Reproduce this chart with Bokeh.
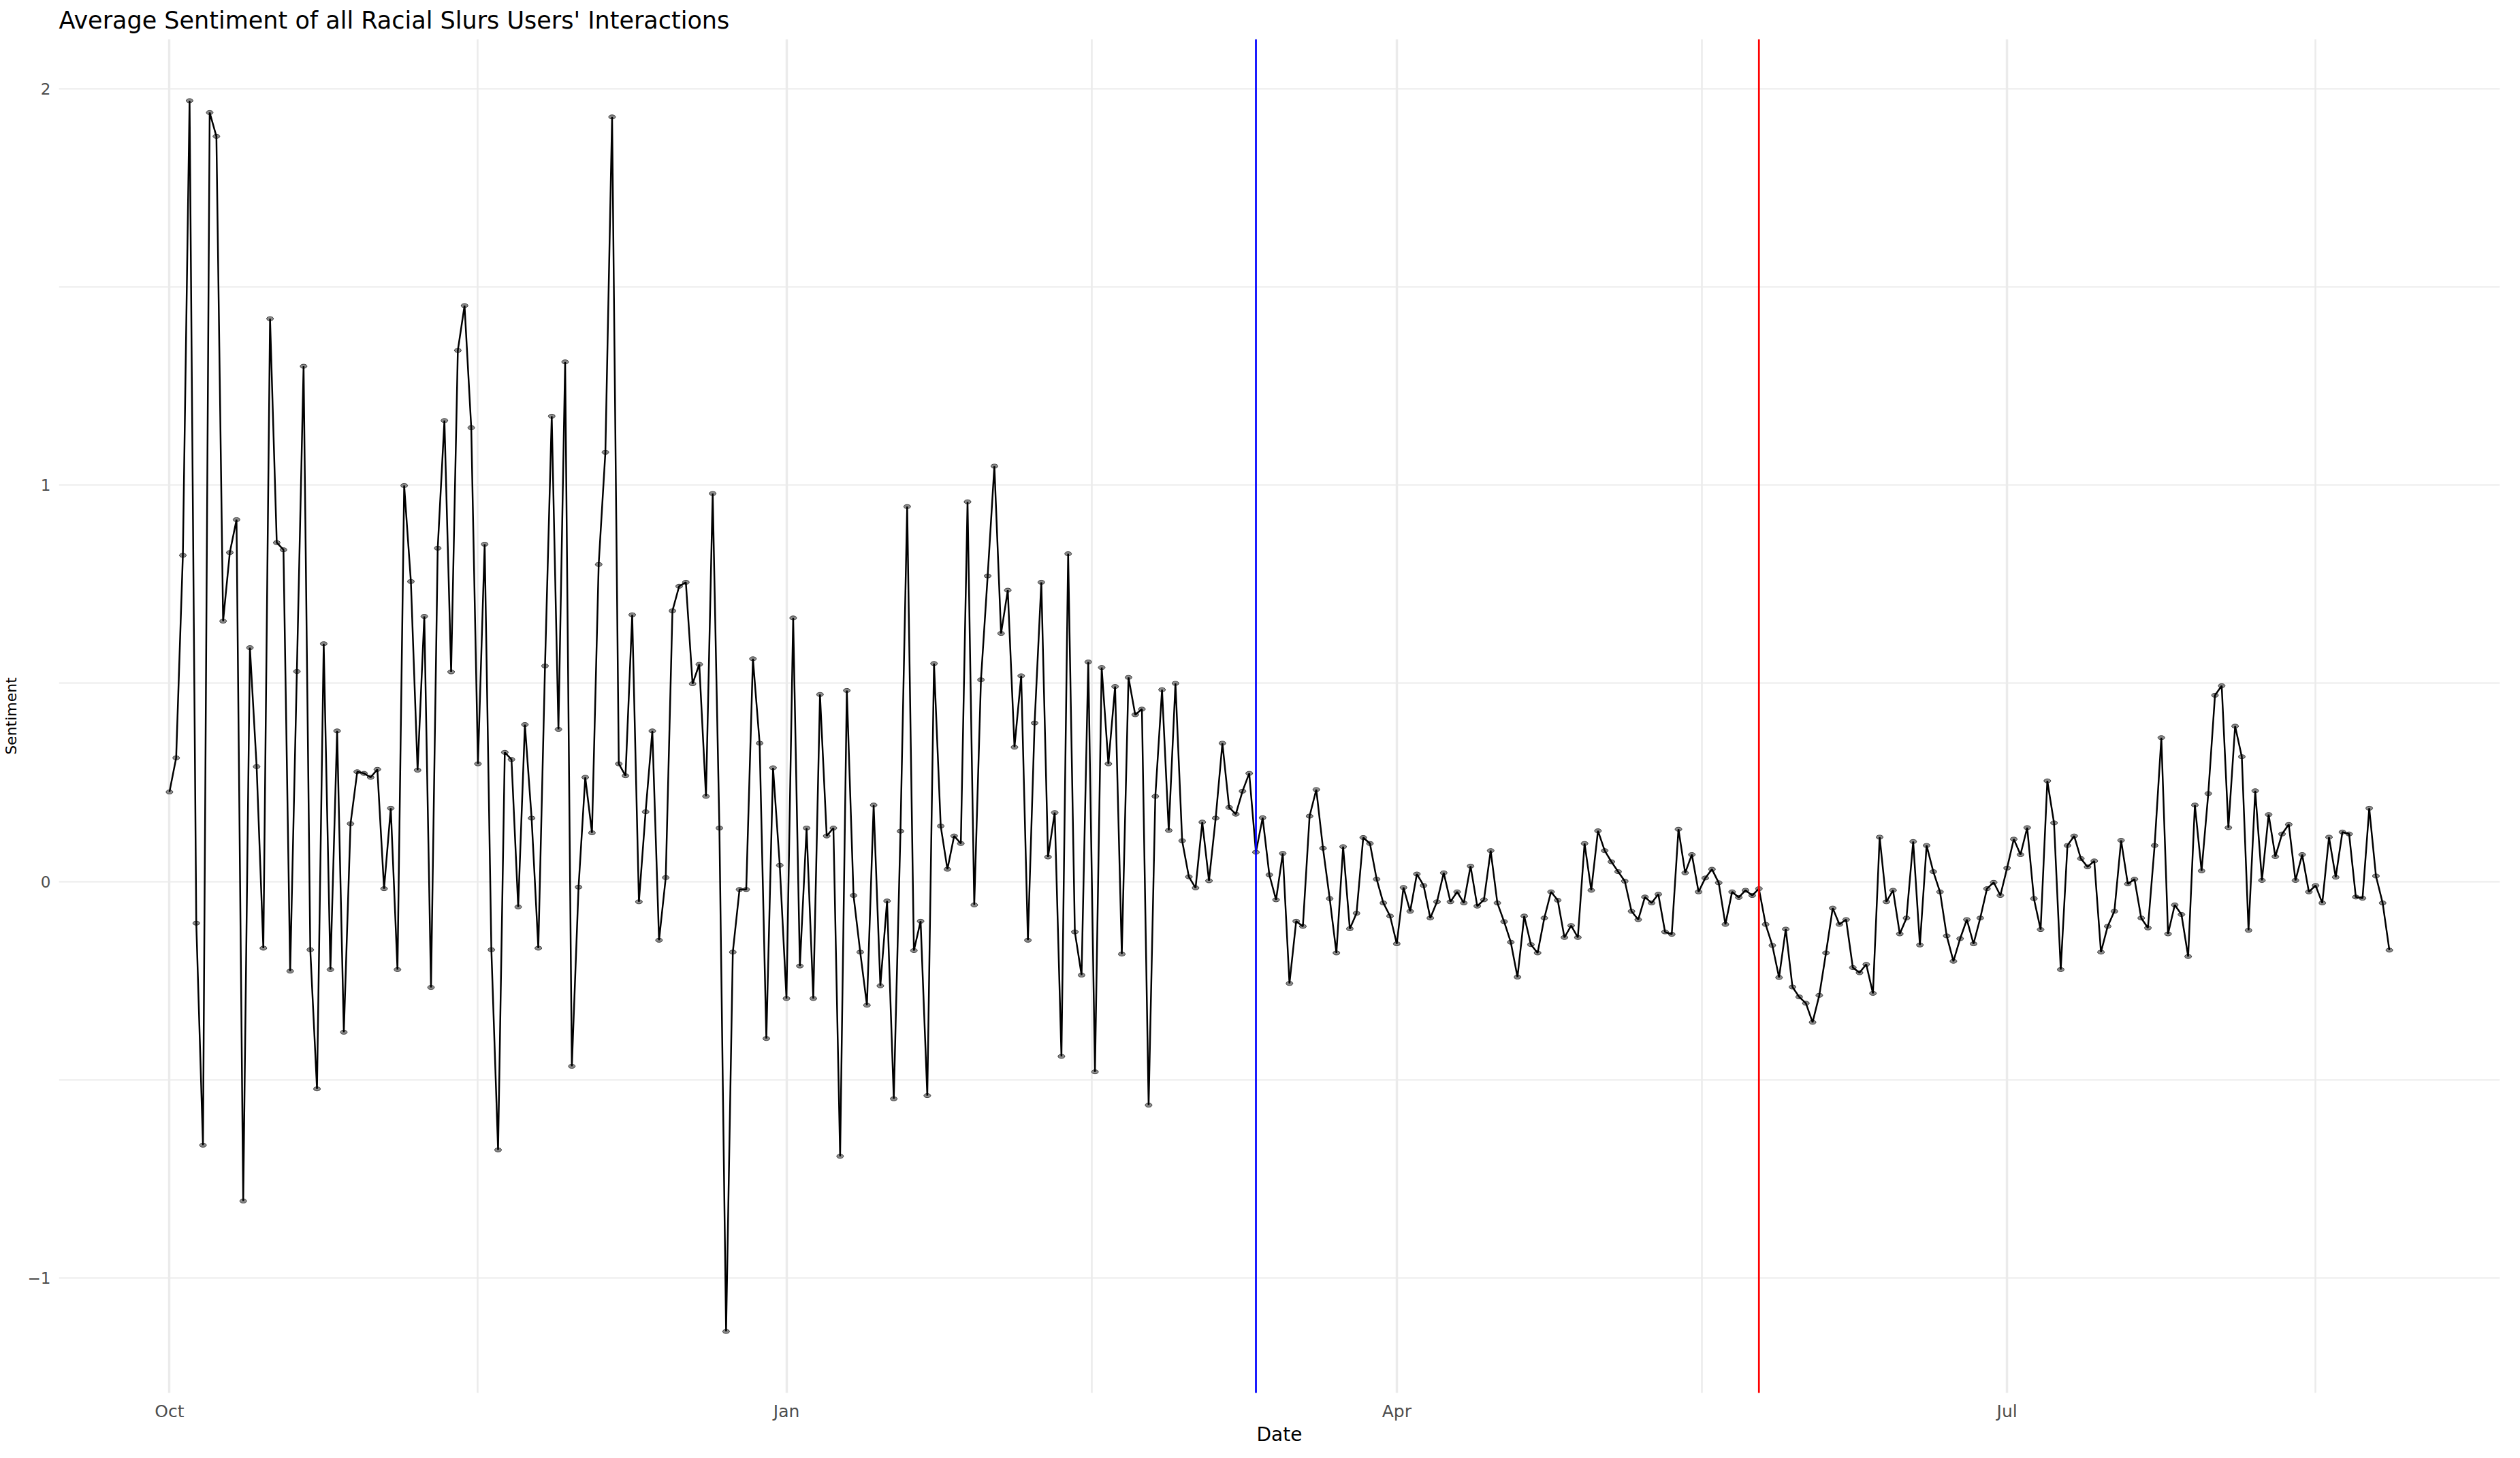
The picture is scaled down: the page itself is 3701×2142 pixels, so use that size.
import pandas as pd
from bokeh.plotting import figure
from bokeh.models import Range1d, FixedTicker, Span, DatetimeTickFormatter, ColumnDataSource
from bokeh.embed import file_html
from bokeh.resources import INLINE

# ---------------- data ----------------
start_date = "2019-10-01"
sentiment = [
    0.226, 0.312, 0.823, 1.97, -0.105, -0.665, 1.94, 1.88, 0.657, 0.83,
    0.913, -0.806, 0.59, 0.29, -0.168, 1.42, 0.855, 0.837, -0.226, 0.53,
    1.30, -0.172, -0.523, 0.60, -0.222, 0.38, -0.38, 0.146, 0.277, 0.273,
    0.263, 0.283, -0.018, 0.185, -0.222, 0.999, 0.757, 0.281, 0.669, -0.267,
    0.841, 1.163, 0.529, 1.34, 1.453, 1.145, 0.297, 0.851, -0.172, -0.677,
    0.326, 0.308, -0.064, 0.396, 0.16, -0.168, 0.544, 1.174, 0.384, 1.311,
    -0.466, -0.014, 0.263, 0.123, 0.80, 1.083, 1.929, 0.297, 0.267, 0.673,
    -0.051, 0.176, 0.38, -0.148, 0.01, 0.683, 0.745, 0.755, 0.499, 0.548,
    0.215, 0.979, 0.135, -1.135, -0.178, -0.02, -0.02, 0.562, 0.349, -0.396,
    0.287, 0.041, -0.295, 0.665, -0.213, 0.135, -0.295, 0.472, 0.115, 0.135,
    -0.693, 0.482, -0.035, -0.178, -0.312, 0.193, -0.263, -0.049, -0.548, 0.127,
    0.946, -0.174, -0.10, -0.54, 0.55, 0.14, 0.031, 0.115, 0.096, 0.958,
    -0.059, 0.509, 0.771, 1.048, 0.626, 0.735, 0.339, 0.519, -0.148, 0.40,
    0.755, 0.062, 0.174, -0.441, 0.827, -0.127, -0.236, 0.554, -0.48, 0.54,
    0.297, 0.492, -0.183, 0.515, 0.421, 0.435, -0.564, 0.215, 0.484, 0.129,
    0.50, 0.103, 0.012, -0.016, 0.15, 0.002, 0.16, 0.349, 0.187, 0.17,
    0.228, 0.273, 0.074, 0.161, 0.017, -0.046, 0.071, -0.257, -0.10, -0.113,
    0.165, 0.232, 0.084, -0.043, -0.18, 0.088, -0.119, -0.08, 0.111, 0.096,
    0.006, -0.054, -0.087, -0.157, -0.015, -0.075, 0.019, -0.01, -0.092, -0.051,
    0.022, -0.051, -0.026, -0.054, 0.039, -0.062, -0.046, 0.078, -0.054, -0.101,
    -0.153, -0.241, -0.087, -0.159, -0.18, -0.092, -0.026, -0.047, -0.141, -0.111,
    -0.141, 0.096, -0.022, 0.128, 0.078, 0.05, 0.025, 0.001, -0.075, -0.096,
    -0.039, -0.054, -0.032, -0.127, -0.133, 0.132, 0.022, 0.068, -0.026, 0.009,
    0.031, -0.003, -0.108, -0.026, -0.04, -0.022, -0.035, -0.018, -0.108, -0.161,
    -0.242, -0.12, -0.266, -0.291, -0.307, -0.355, -0.287, -0.18, -0.067, -0.108,
    -0.096, -0.217, -0.23, -0.209, -0.282, 0.112, -0.051, -0.022, -0.132, -0.092,
    0.101, -0.16, 0.091, 0.025, -0.026, -0.137, -0.201, -0.144, -0.096, -0.157,
    -0.092, -0.018, -0.002, -0.035, 0.034, 0.107, 0.068, 0.136, -0.043, -0.121,
    0.254, 0.148, -0.222, 0.091, 0.115, 0.058, 0.037, 0.052, -0.178, -0.113,
    -0.075, 0.104, -0.006, 0.006, -0.092, -0.117, 0.091, 0.363, -0.132, -0.059,
    -0.083, -0.189, 0.193, 0.027, 0.222, 0.47, 0.494, 0.136, 0.392, 0.315,
    -0.123, 0.229, 0.003, 0.169, 0.063, 0.12, 0.144, 0.003, 0.068, -0.026,
    -0.01, -0.054, 0.112, 0.011, 0.125, 0.12, -0.039, -0.042, 0.185, 0.014,
    -0.054, -0.173,
]
event_dates = ["2020-03-11", "2020-05-25"]
event_colors = ["#0000FF", "#FF0000"]
x_tick_dates = ["2019-10-01", "2020-01-01", "2020-04-01", "2020-07-01"]
x_break_after = "2020-10-01"
y_ticks = [-1, 0, 1, 2]
y_minor_ticks = [-0.5, 0.5, 1.5]

title_text = "Average Sentiment of all Racial Slurs Users' Interactions"
x_label = "Date"
y_label = "Sentiment"

# ---------------- build ----------------
dates = pd.date_range(start_date, periods=len(sentiment), freq="D")
src = ColumnDataSource(dict(date=dates, sentiment=sentiment))


def ms(d):
    return pd.Timestamp(d).value / 1e6


x0 = ms(dates[0])
x1 = ms(dates[-1])
span_x = x1 - x0
x_start = x0 - 0.0498 * span_x
x_end = x1 + 0.0498 * span_x
y_min, y_max = min(sentiment), max(sentiment)
y_pad = 0.05 * (y_max - y_min)

major = [ms(d) for d in x_tick_dates]
all_breaks = major + [ms(x_break_after)]
minor = [(a + b) / 2 for a, b in zip(all_breaks[:-1], all_breaks[1:])]

FONT = "DejaVu Sans"

p = figure(
    width=3685, height=2126,
    x_axis_type="datetime",
    x_range=Range1d(x_start, x_end),
    y_range=Range1d(y_min - y_pad, y_max + y_pad),
    output_backend="svg", toolbar_location=None,
    min_border_left=74, min_border_right=14,
    min_border_top=56, min_border_bottom=76,
)
p.background_fill_color = "white"
p.border_fill_color = "white"
p.outline_line_color = None

p.title.text = title_text
p.title.text_font = FONT
p.title.text_font_size = "35px"
p.title.text_font_style = "normal"
p.title.text_color = "#000000"
p.title.align = "left"
p.title.standoff = 15

# grids
p.xgrid.ticker = FixedTicker(ticks=major, minor_ticks=minor)
p.xgrid.grid_line_color = "#EBEBEB"
p.xgrid.grid_line_width = 3.5
p.xgrid.minor_grid_line_color = "#EBEBEB"
p.xgrid.minor_grid_line_width = 2.5
p.ygrid.ticker = FixedTicker(ticks=y_ticks, minor_ticks=y_minor_ticks)
p.ygrid.grid_line_color = "#EBEBEB"
p.ygrid.grid_line_width = 2
p.ygrid.minor_grid_line_color = "#EBEBEB"
p.ygrid.minor_grid_line_width = 2

# axes
p.xaxis.ticker = FixedTicker(ticks=major)
fmt = "%b"
p.xaxis.formatter = DatetimeTickFormatter(
    milliseconds=fmt, seconds=fmt, minsec=fmt, minutes=fmt, hourmin=fmt,
    hours=fmt, days=fmt, months=fmt, years=fmt)
p.yaxis.ticker = FixedTicker(ticks=y_ticks)
for ax in (p.xaxis, p.yaxis):
    ax.axis_line_color = None
    ax.major_tick_line_color = None
    ax.minor_tick_line_color = None
    ax.major_tick_out = 0
    ax.major_tick_in = 0
    ax.minor_tick_out = 0
    ax.minor_tick_in = 0
    ax.major_label_text_font = FONT
    ax.major_label_text_color = "#4D4D4D"
    ax.axis_label_text_font = FONT
    ax.axis_label_text_font_style = "normal"
    ax.axis_label_text_color = "#000000"

p.xaxis.major_label_text_font_size = "25px"
p.xaxis.major_label_standoff = 12
p.xaxis.axis_label = x_label
p.xaxis.axis_label_text_font_size = "28px"
p.xaxis.axis_label_standoff = 0

p.yaxis.major_label_text_font_size = "23px"
p.yaxis.major_label_standoff = 12
p.yaxis.axis_label = y_label
p.yaxis.axis_label_text_font_size = "22px"
p.yaxis.axis_label_standoff = 9

# event lines
for d, c in zip(event_dates, event_colors):
    p.add_layout(Span(location=ms(d), dimension="height", line_color=c, line_width=2.7))

# data
p.ellipse(x="date", y="sentiment", width=10, height=6,
          width_units="screen", height_units="screen",
          fill_color="#8C8C8C", line_color="#3A3A3A", line_width=1, source=src)
p.line(x="date", y="sentiment", line_color="#000000", line_width=2.5, source=src)

open("out.html", "w").write(file_html(p, INLINE))
